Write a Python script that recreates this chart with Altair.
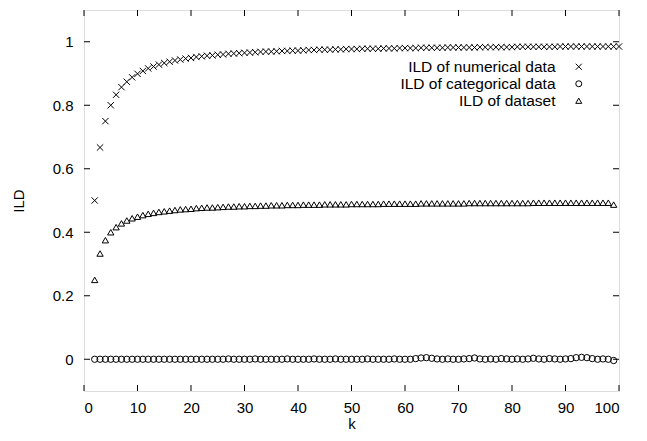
import altair as alt
import pandas as pd

k_values = list(range(2, 101))

ild_numerical = [
    0.500, 0.667, 0.750, 0.800, 0.833, 0.857, 0.874, 0.888, 0.899,
    0.908, 0.916, 0.922, 0.928, 0.933, 0.937, 0.941, 0.944, 0.947, 0.949,
    0.952, 0.954, 0.956, 0.957, 0.959, 0.960, 0.962, 0.963, 0.964, 0.965,
    0.966, 0.967, 0.968, 0.969, 0.969, 0.970, 0.971, 0.971, 0.972, 0.972,
    0.973, 0.974, 0.974, 0.975, 0.975, 0.975, 0.976, 0.976, 0.977, 0.977,
    0.977, 0.978, 0.978, 0.978, 0.978, 0.979, 0.979, 0.979, 0.980, 0.980,
    0.980, 0.980, 0.981, 0.981, 0.981, 0.981, 0.981, 0.982, 0.982, 0.982,
    0.982, 0.982, 0.982, 0.983, 0.983, 0.983, 0.983, 0.983, 0.983, 0.983,
    0.984, 0.984, 0.984, 0.984, 0.984, 0.984, 0.984, 0.984, 0.985, 0.985,
    0.985, 0.985, 0.985, 0.985, 0.985, 0.985, 0.985, 0.985, 0.985, 0.985,
]

ild_categorical = [
    0.000, 0.000, 0.000, 0.000, 0.000, 0.000, 0.000, 0.000, 0.000,
    0.000, 0.000, 0.000, 0.000, 0.000, 0.000, 0.000, 0.000, 0.000, 0.000,
    0.000, 0.000, 0.000, 0.000, 0.000, 0.000, 0.001, 0.000, 0.000, 0.000,
    0.000, 0.001, 0.000, 0.000, 0.000, 0.000, 0.000, 0.001, 0.000, 0.000,
    0.000, 0.000, 0.001, 0.000, 0.000, 0.000, 0.001, 0.000, 0.000, 0.000,
    0.000, 0.000, 0.001, 0.000, 0.000, 0.000, 0.000, 0.001, 0.000, 0.000,
    0.000, 0.002, 0.004, 0.005, 0.003, 0.001, 0.000, 0.001, 0.000, 0.000,
    0.001, 0.002, 0.004, 0.001, 0.000, 0.001, 0.000, 0.002, 0.001, 0.000,
    0.001, 0.000, 0.001, 0.003, 0.001, 0.000, 0.002, 0.001, 0.000, 0.001,
    0.002, 0.005, 0.006, 0.005, 0.002, 0.000, 0.001, 0.000, -0.004,
]

ild_dataset = [
    0.250, 0.333, 0.375, 0.400, 0.416, 0.428, 0.437, 0.444, 0.449,
    0.454, 0.458, 0.461, 0.464, 0.466, 0.468, 0.470, 0.472, 0.473, 0.474,
    0.476, 0.477, 0.478, 0.478, 0.479, 0.480, 0.481, 0.481, 0.482, 0.482,
    0.483, 0.483, 0.484, 0.484, 0.485, 0.485, 0.485, 0.486, 0.486, 0.486,
    0.487, 0.487, 0.487, 0.487, 0.488, 0.488, 0.488, 0.488, 0.488, 0.489,
    0.489, 0.489, 0.489, 0.489, 0.489, 0.490, 0.490, 0.490, 0.490, 0.490,
    0.490, 0.490, 0.491, 0.491, 0.491, 0.491, 0.491, 0.491, 0.491, 0.491,
    0.491, 0.492, 0.492, 0.492, 0.492, 0.492, 0.492, 0.492, 0.492, 0.492,
    0.492, 0.492, 0.492, 0.493, 0.493, 0.493, 0.493, 0.493, 0.493, 0.493,
    0.493, 0.493, 0.493, 0.493, 0.493, 0.493, 0.493, 0.493, 0.487,
]

series_names = ["ILD of numerical data", "ILD of categorical data", "ILD of dataset"]
series_shapes = ["M-1,-1L1,1M-1,1L1,-1", "circle", "triangle-up"]

x_ticks = [0, 10, 20, 30, 40, 50, 60, 70, 80, 90, 100]
y_ticks = [0, 0.2, 0.4, 0.6, 0.8, 1.0]

W, H = 535, 381
FONT = "Liberation Sans"

rows = []
for name, vals in zip(series_names, [ild_numerical, ild_categorical, ild_dataset]):
    for kk, v in zip(k_values, vals):
        rows.append({"k": kk, "ILD": v, "series": name})
df = pd.DataFrame(rows)

xscale = alt.Scale(domain=[0, 100], nice=False, zero=False)
yscale = alt.Scale(domain=[-0.1, 1.1], nice=False, zero=False)

x_axis = alt.Axis(values=x_ticks, title="k", grid=False, domain=False, ticks=False,
                  tickSize=0, labelPadding=9, titlePadding=1, labelFontSize=15,
                  titleFontSize=15, titleFontWeight="normal", labelFont=FONT, titleFont=FONT,
                  labelColor="black", titleColor="black")
y_axis = alt.Axis(values=y_ticks, title="ILD", grid=False, domain=False, ticks=False,
                  format="~g",
                  tickSize=0, labelPadding=11, titlePadding=26, labelFontSize=15,
                  titleFontSize=15, titleFontWeight="normal", labelFont=FONT, titleFont=FONT,
                  labelColor="black", titleColor="black", labelFlush=False)

points = alt.Chart(df).mark_point(filled=False, strokeWidth=1, color="black", opacity=1, size=40).encode(
    x=alt.X("k:Q", scale=xscale, axis=x_axis),
    y=alt.Y("ILD:Q", scale=yscale, axis=y_axis),
    shape=alt.Shape("series:N", scale=alt.Scale(domain=series_names, range=series_shapes),
                    legend=alt.Legend(title=None, orient="none", legendX=487, legendY=49,
                                      labelAlign="right", labelOffset={"expr": "-31"}, labelFontSize=15.5,
                                      labelLimit=300,
                                      labelFont=FONT, labelColor="black", rowPadding={"expr": "-1"},
                                      symbolStrokeColor="black", symbolStrokeWidth=1,
                                      symbolFillColor="transparent", symbolSize=36,
                                      padding=0)),
)

xt_df = pd.DataFrame({"t": x_ticks})
yt_df = pd.DataFrame({"t": y_ticks})
TL = 6

bottom_ticks = alt.Chart(xt_df).mark_rule(color="black", strokeWidth=1).encode(
    x=alt.X("t:Q", scale=xscale), y=alt.value(H), y2=alt.value(H - TL))
top_ticks = alt.Chart(xt_df).mark_rule(color="black", strokeWidth=1).encode(
    x=alt.X("t:Q", scale=xscale), y=alt.value(0), y2=alt.value(TL))
left_ticks = alt.Chart(yt_df).mark_rule(color="black", strokeWidth=1).encode(
    y=alt.Y("t:Q", scale=yscale), x=alt.value(0), x2=alt.value(TL))
right_ticks = alt.Chart(yt_df).mark_rule(color="black", strokeWidth=1).encode(
    y=alt.Y("t:Q", scale=yscale), x=alt.value(W), x2=alt.value(W - TL))

chart = alt.layer(bottom_ticks, top_ticks, left_ticks, right_ticks, points).properties(
    width=W, height=H,
    autosize=alt.AutoSizeParams(type="none"),
    padding={"left": 76, "top": 2, "right": 20, "bottom": 41},
).configure_view(stroke="black", strokeWidth=1).configure(background="white")

chart.save("out.html", embed_options={"renderer": "svg", "actions": False})
